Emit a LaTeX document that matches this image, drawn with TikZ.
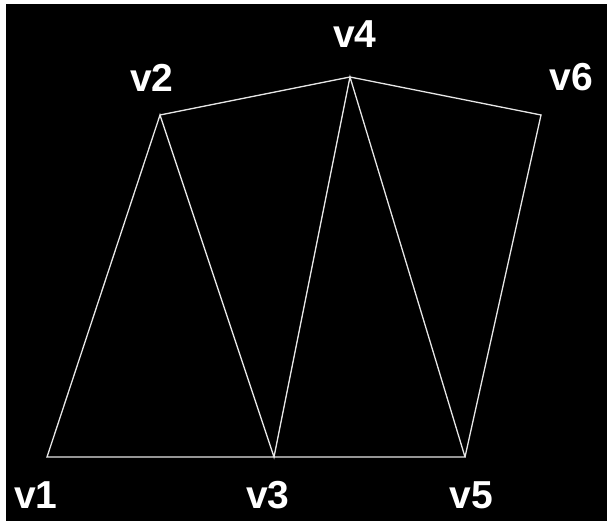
\documentclass[tikz,border=0pt]{standalone}
\usepackage{fontspec}
\setmainfont{Liberation Sans}
\definecolor{board}{HTML}{000000}
\definecolor{chalk}{HTML}{E6E6E6}
\usetikzlibrary{positioning}
\tikzset{
  edge/.style={draw=chalk, line width=1.3pt, line join=miter},
  vlbl/.style={text=white, font=\bfseries\fontsize{39}{39}\selectfont, inner sep=0pt, anchor=base},
}

\begin{document}
\begin{tikzpicture}[x=1pt,y=-1pt]
\useasboundingbox (0,0) rectangle (607,521);
\fill[white] (0,0) rectangle (607,521);
\fill[board] (6,4) rectangle (607,521);
% vertices
\coordinate (v1) at (47,457);
\coordinate (v2) at (160,115);
\coordinate (v3) at (274,457);
\coordinate (v4) at (350,77);
\coordinate (v5) at (465,457);
\coordinate (v6) at (541,115);
% labels
\node[vlbl] (l1) at (36,508) {v1};
\node[vlbl] (l2) at (152,92) {v2};
\node[vlbl] (l3) at (268,508) {v3};
\node[vlbl] (l4) at (355,48) {v4};
\node[vlbl] (l5) at (471,508) {v5};
\node[vlbl] (l6) at (571,91) {v6};
% edges
\draw[edge] (v3)--(v1)--(v2)--(v3)--(v4)--(v5)--(v3);
\draw[edge] (v2)--(v4)--(v6)--(v5);
\end{tikzpicture}
\end{document}
